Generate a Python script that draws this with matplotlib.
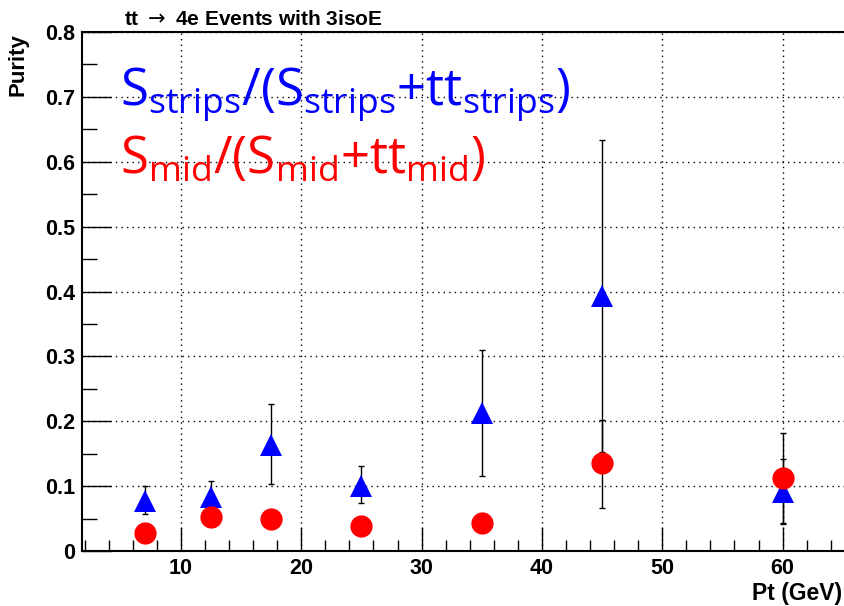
import matplotlib
matplotlib.use("Agg")
import matplotlib.pyplot as plt
from matplotlib.ticker import MultipleLocator

# Data
pt = [7, 12.5, 17.5, 25, 35, 45, 60]
strips_val = [0.077, 0.084, 0.163, 0.100, 0.212, 0.393, 0.091]
strips_up = [0.023, 0.024, 0.064, 0.031, 0.098, 0.241, 0.051]
strips_dn = [0.020, 0.020, 0.060, 0.026, 0.096, 0.240, 0.049]
mid_val = [0.028, 0.052, 0.049, 0.039, 0.043, 0.136, 0.113]
mid_up = [0.010, 0.012, 0.012, 0.010, 0.012, 0.066, 0.069]
mid_dn = [0.010, 0.012, 0.012, 0.010, 0.012, 0.070, 0.070]

W, H = 844, 606
fig = plt.figure(figsize=(W / 100, H / 100), dpi=100)
L, R, T, B = 82, 844, 32, 551
ax = fig.add_axes([L / W, 1 - B / H, (R - L) / W, (B - T) / H])

ax.set_xlim(1.78, 65.1)
ax.set_ylim(0, 0.8)

ax.errorbar(pt, strips_val, yerr=[strips_dn, strips_up], fmt='none',
            ecolor='black', elinewidth=1.0, capsize=2.5, capthick=1.0, zorder=2)
ax.errorbar(pt, mid_val, yerr=[mid_dn, mid_up], fmt='none',
            ecolor='black', elinewidth=1.0, capsize=2.5, capthick=1.0, zorder=2)
ax.plot(pt, strips_val, linestyle='none', marker='^', markersize=16,
        color='#0000ff', markeredgewidth=0, zorder=3)
ax.plot(pt, mid_val, linestyle='none', marker='o', markersize=16,
        color='#ff0000', markeredgewidth=0, zorder=4)

ax.xaxis.set_major_locator(MultipleLocator(10))
ax.xaxis.set_minor_locator(MultipleLocator(2))
ax.yaxis.set_major_locator(MultipleLocator(0.1))
ax.yaxis.set_minor_locator(MultipleLocator(0.05))

ax.grid(True, which='major', color='black', linestyle=(0, (1, 3)), linewidth=1.0)
ax.tick_params(axis='both', which='both', direction='in', top=False, right=False)
ax.tick_params(axis='x', which='major', length=17, width=1, pad=5)
ax.tick_params(axis='x', which='minor', length=8, width=1)
ax.tick_params(axis='y', which='major', length=21, width=1, pad=5)
ax.tick_params(axis='y', which='minor', length=11, width=1)

def yfmt(v, pos):
    if abs(v) < 1e-9:
        return '0'
    return '%.1f' % v
ax.yaxis.set_major_formatter(matplotlib.ticker.FuncFormatter(yfmt))

for lab in ax.get_xticklabels() + ax.get_yticklabels():
    lab.set_fontfamily('Liberation Sans')
    lab.set_fontweight('bold')
    lab.set_fontsize(15.5)

ax.spines['right'].set_visible(False)
for s in ['left', 'bottom', 'top']:
    ax.spines[s].set_linewidth(1.5)

fig.text(124 / W, 1 - 25 / H, r'tt $\rightarrow$ 4e Events with 3isoE', ha='left', va='baseline',
         fontsize=15, fontweight='bold', family='Liberation Sans')
fig.text(18 / W, 1 - 33 / H, 'Purity', ha='center', va='top', rotation=90,
         fontsize=16, fontweight='bold', family='Liberation Sans')
fig.text(842 / W, 1 - 600 / H, 'Pt (GeV)', ha='right', va='baseline',
         fontsize=16.5, fontweight='bold', family='Liberation Sans')

fig.text(120 / W, 1 - 105 / H,
         r'$\mathregular{S_{strips}/(S_{strips}{+}tt_{strips})}$',
         color='#0000ff', fontsize=36.5, family='Open Sans', ha='left', va='baseline')
fig.text(120 / W, 1 - 173 / H,
         r'$\mathregular{S_{mid}/(S_{mid}{+}tt_{mid})}$',
         color='#ff0000', fontsize=36.5, family='Open Sans', ha='left', va='baseline')

fig.savefig('out.png', dpi=100)
